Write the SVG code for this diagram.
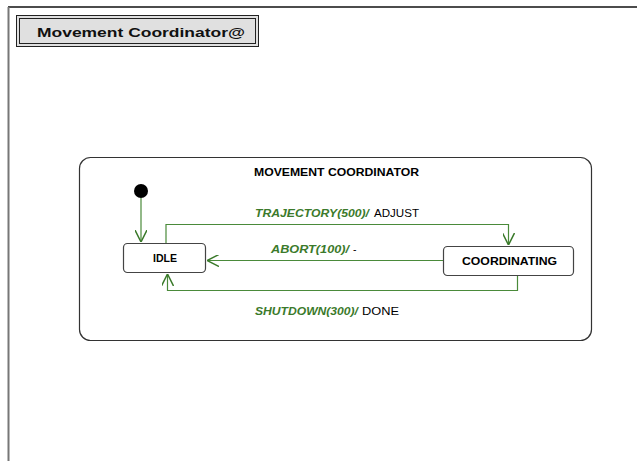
<svg xmlns="http://www.w3.org/2000/svg" width="637" height="461" viewBox="0 0 637 461">
<style>
.state{fill:#fff;stroke:#444;stroke-width:1.2}
.conn{fill:none;stroke:#4a8a3a;stroke-width:1.2}
.sname{font-family:"Liberation Sans",Arial,sans-serif;font-size:10.5px;font-weight:bold;fill:#000}
.ev{font-family:"Liberation Sans",Arial,sans-serif;font-size:10.5px;fill:#3b7a2b;font-weight:bold;font-style:italic}
.act{font-family:"Liberation Sans",Arial,sans-serif;font-size:10.5px;fill:#000}
</style>
<defs>
<marker id="arr" viewBox="0 0 12 12" refX="12" refY="6" markerWidth="12" markerHeight="12" markerUnits="userSpaceOnUse" orient="auto">
<path d="M0,0 L12,6 L0,12" fill="none" stroke="#3b7a2b" stroke-width="1.5"/>
</marker>
</defs>
<rect width="637" height="461" fill="#fff"/>
<g id="frame">
<line x1="8" y1="7" x2="637" y2="7" stroke="#111" stroke-width="1.5"/>
<line x1="8.5" y1="7" x2="8.5" y2="461" stroke="#777" stroke-width="2"/>
</g>
<g id="title">
<rect x="16.5" y="15.5" width="242" height="31" fill="#e0e0e0" stroke="#222" stroke-width="1"/>
<rect x="19.5" y="18.5" width="236" height="25" fill="none" stroke="#222" stroke-width="1"/>
<text x="37" y="37" font-family="'Liberation Sans',Arial,sans-serif" font-size="13.5px" font-weight="bold" fill="#111" textLength="208" lengthAdjust="spacingAndGlyphs">Movement Coordinator@</text>
</g>
<g id="composite">
<rect x="79.5" y="157.5" width="512" height="183" rx="11" fill="#fff" stroke="#333" stroke-width="1.2"/>
<text x="254" y="176" class="sname" textLength="165" lengthAdjust="spacingAndGlyphs">MOVEMENT COORDINATOR</text>
</g>
<g id="initial">
<circle cx="141" cy="191" r="7" fill="#000"/>
</g>
<g id="IDLE">
<rect x="123.5" y="243.5" width="82" height="29" rx="4" class="state"/>
<text x="153" y="261.5" class="sname" textLength="24" lengthAdjust="spacingAndGlyphs">IDLE</text>
</g>
<g id="COORDINATING">
<rect x="443.5" y="246.5" width="130" height="29" rx="4" class="state"/>
<text x="462" y="264.5" class="sname" textLength="95" lengthAdjust="spacingAndGlyphs">COORDINATING</text>
</g>
<g id="connectors">
<path class="conn" d="M141,198 V242" marker-end="url(#arr)"/>
<path class="conn" d="M166,243 V224.5 H508.5 V245" marker-end="url(#arr)"/>
<path class="conn" d="M443,260.5 H207" marker-end="url(#arr)"/>
<path class="conn" d="M517.5,276 V290.5 H167.5 V274" marker-end="url(#arr)"/>
</g>
<g id="labels">
<text x="255" y="217" class="ev" textLength="114" lengthAdjust="spacingAndGlyphs">TRAJECTORY(500)/</text>
<text x="374" y="217" class="act" textLength="45" lengthAdjust="spacingAndGlyphs">ADJUST</text>
<text x="271" y="252.5" class="ev" textLength="78" lengthAdjust="spacingAndGlyphs">ABORT(100)/</text>
<text x="353" y="252.5" class="act">-</text>
<text x="255" y="314.5" class="ev" textLength="103" lengthAdjust="spacingAndGlyphs">SHUTDOWN(300)/</text>
<text x="362" y="314.5" class="act" textLength="37" lengthAdjust="spacingAndGlyphs">DONE</text>
</g>
</svg>
